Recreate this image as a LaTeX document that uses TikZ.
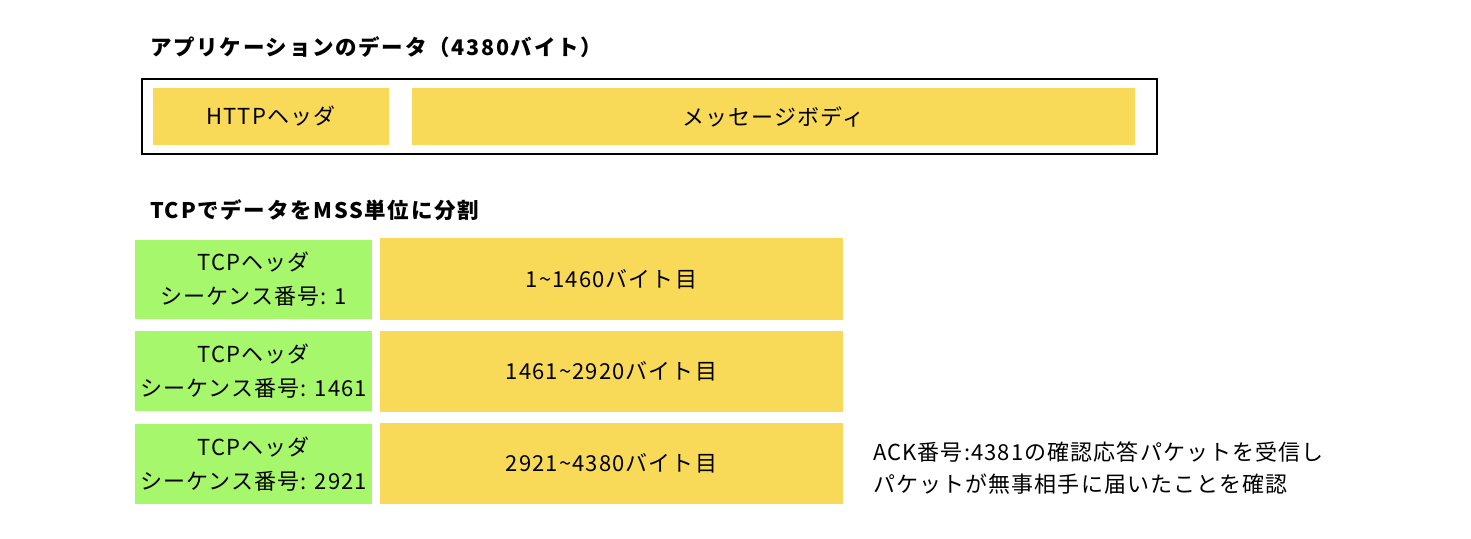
\documentclass[tikz,border=0pt]{standalone}
\usepackage{fontspec}
\setmainfont{Noto Sans CJK JP}
\newfontfamily\bodyfont[LetterSpace=5]{Noto Sans CJK JP}
\newfontfamily\titlefont[LetterSpace=8]{Noto Sans CJK JP}
\begin{document}
\begin{tikzpicture}[x=1pt,y=-1pt,
  txt/.style={font=\bodyfont\fontsize{22}{34}\selectfont, inner sep=0pt, align=center},
  ttl/.style={font=\titlefont\bfseries\fontsize{21.5}{26}\selectfont, inner sep=0pt, anchor=base west},
  ybox/.style={fill=myyellow, draw=none},
  gbox/.style={fill=mygreen, draw=none}]
\definecolor{myyellow}{HTML}{F8DA58}
\definecolor{mygreen}{HTML}{A7F76C}
\useasboundingbox (0,0) rectangle (1471,538);
\fill[white] (0,0) rectangle (1471,538);

\node[ttl] (t1) at (150,55) {アプリケーションのデータ（4380バイト）};
\draw[line width=2pt] (142,79) rectangle (1157,154);
\fill[ybox] (153,88) rectangle (389,145);
\node[txt] (httph) at (271,116.5) {HTTPヘッダ};
\fill[ybox] (412,88) rectangle (1135,145);
\node[txt] (body) at (773.5,116.5) {メッセージボディ};

\node[ttl] (t2) at (150,218) {TCPでデータをMSS単位に分割};

\fill[gbox] (135,240) rectangle (372,319);
\fill[ybox] (380,238) rectangle (843,320);
\node[txt] (h1) at (253.5,279.5) {TCPヘッダ\\シーケンス番号: 1};
\node[txt] (d1) at (611.5,279) {1\textasciitilde1460バイト目};

\fill[gbox] (135,331) rectangle (372,411);
\fill[ybox] (380,331) rectangle (843,412);
\node[txt] (h2) at (253.5,371) {TCPヘッダ\\シーケンス番号: 1461};
\node[txt] (d2) at (611.5,371.5) {1461\textasciitilde2920バイト目};

\fill[gbox] (135,424) rectangle (372,504);
\fill[ybox] (380,423) rectangle (843,504);
\node[txt] (h3) at (253.5,464) {TCPヘッダ\\シーケンス番号: 2921};
\node[txt] (d3) at (611.5,463.5) {2921\textasciitilde4380バイト目};

\node[txt, align=left, anchor=west, font=\bodyfont\fontsize{22}{32}\selectfont] (ack) at (873,468) {ACK番号:4381の確認応答パケットを受信し\\パケットが無事相手に届いたことを確認};
\end{tikzpicture}
\end{document}
